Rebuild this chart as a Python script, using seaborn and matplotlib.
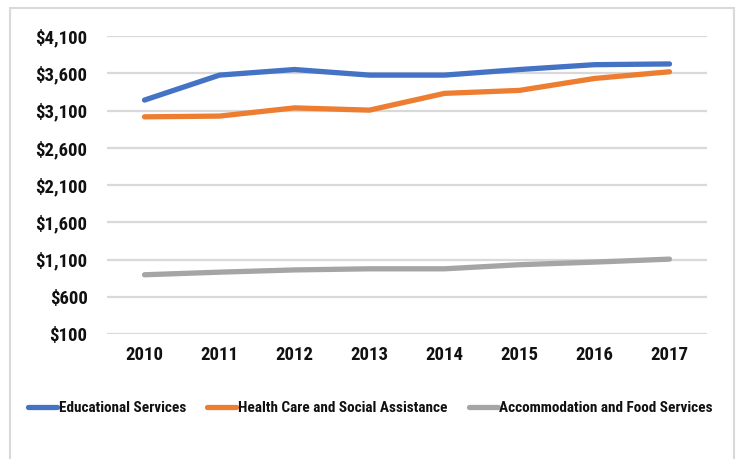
import matplotlib
matplotlib.use("Agg")
import matplotlib.pyplot as plt
from matplotlib import font_manager
from matplotlib.patches import Rectangle
from matplotlib.ticker import FuncFormatter
import seaborn as sns
import pandas as pd

years = ["2010", "2011", "2012", "2013", "2014", "2015", "2016", "2017"]
educational = [3240, 3575, 3650, 3575, 3575, 3650, 3715, 3725]
health = [3015, 3025, 3135, 3105, 3330, 3370, 3530, 3620]
accommodation = [895, 930, 960, 975, 975, 1030, 1065, 1105]
series_names = ["Educational Services", "Health Care and Social Assistance",
                "Accommodation and Food Services"]
colors = ["#4472C4", "#ED7D31", "#A5A5A5"]
y_ticks = [100, 600, 1100, 1600, 2100, 2600, 3100, 3600, 4100]

df = pd.DataFrame({
    "Year": years * 3,
    "Value": educational + health + accommodation,
    "Series": sum([[n] * len(years) for n in series_names], []),
})

sns.set_theme(style="white")

# prefer a narrow sans face for the labels
installed = {f.name for f in font_manager.fontManager.ttflist}
narrow = [n for n in ["Liberation Sans Narrow", "Arial Narrow", "Roboto Condensed",
                      "DejaVu Sans Condensed", "Open Sans Condensed"] if n in installed]
plt.rcParams["font.family"] = narrow + ["Liberation Sans", "DejaVu Sans"]
plt.rcParams["font.stretch"] = "condensed"
plt.rcParams["font.weight"] = "bold"

fig = plt.figure(figsize=(7.38, 4.59), dpi=100)
ax = fig.add_axes([107 / 738, 1 - 334 / 459, 600 / 738, 298 / 459])

sns.lineplot(data=df, x="Year", y="Value", hue="Series", hue_order=series_names,
             palette=colors, linewidth=3.8, ax=ax, legend=False,
             solid_capstyle="round")

ax.set_xlim(-0.5, len(years) - 0.5)
ax.set_ylim(y_ticks[0], y_ticks[-1])
ax.set_yticks(y_ticks)
ax.yaxis.set_major_formatter(FuncFormatter(lambda v, p: f"${v:,.0f}"))
ax.grid(axis="y", color="#d9d9d9", linewidth=1.6)
ax.set_axisbelow(True)
for s in ax.spines.values():
    s.set_visible(False)
ax.set_xlabel("")
ax.set_ylabel("")
ax.tick_params(axis="y", labelsize=13.5, pad=14, length=0)
ax.tick_params(axis="x", labelsize=13.5, pad=9, length=0)
for lbl in ax.get_xticklabels() + ax.get_yticklabels():
    lbl.set_fontweight("bold")
    lbl.set_color("#111111")

handles = [plt.Line2D([], [], color=c, linewidth=3.8, solid_capstyle="round")
           for c in colors]
fig.legend(handles, series_names, loc="center", bbox_to_anchor=(0.502, 1 - 408 / 459),
           ncol=3, frameon=False, handlelength=1.9, handletextpad=0.1,
           columnspacing=1.4, prop={"size": 11, "weight": "bold"},
           labelcolor="#111111")

fig.add_artist(Rectangle((10 / 738, -0.1), 724 / 738, 1.1 - 8 / 459,
                         transform=fig.transFigure, fill=False,
                         edgecolor="#d9d9d9", linewidth=1.5, clip_on=False))

fig.savefig("out.png", dpi=100)
